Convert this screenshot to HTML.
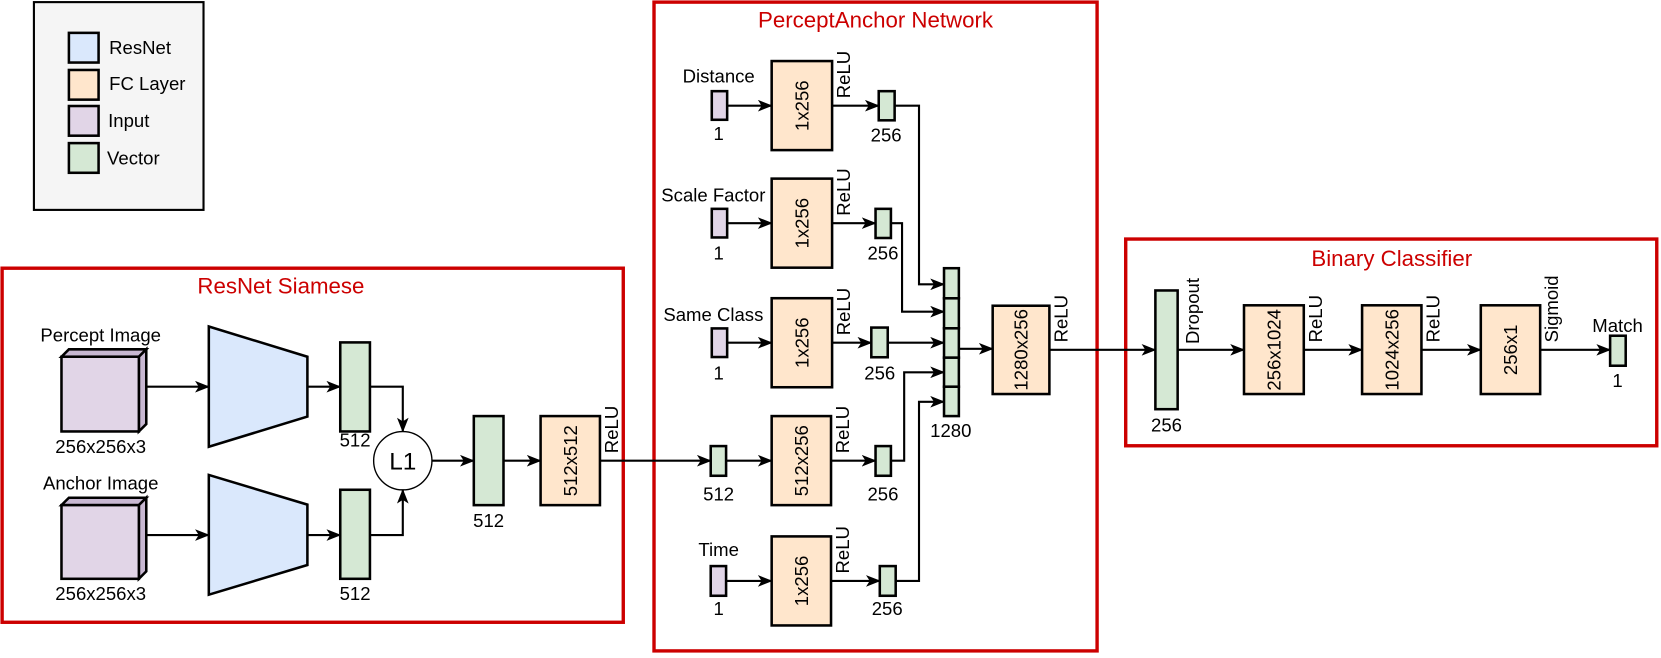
<!DOCTYPE html>
<html><head><meta charset="utf-8"><style>
html,body{margin:0;padding:0;background:#fff;}
svg{display:block;font-family:"Liberation Sans",Arial,sans-serif;}
text{font-family:"Liberation Sans",Arial,sans-serif;fill:#000;}
.t{font-size:17.5px;}
.ti{font-size:21px;fill:#cc0000;}
.ln{stroke:#000;stroke-width:2;fill:none;}
.b{stroke:#000;stroke-width:2.4;}
.red{stroke:#cc0000;stroke-width:3.2;fill:none;}
</style></head><body>
<svg width="1661" height="658" viewBox="0 0 1567 620.7" preserveAspectRatio="none" xmlns="http://www.w3.org/2000/svg" font-family="Liberation Sans, Arial, sans-serif">
<defs>
<marker id="a" markerWidth="14" markerHeight="11" refX="13" refY="5.5" orient="auto" markerUnits="userSpaceOnUse">
<path d="M0,0 L14,5.5 L0,11 L3.5,5.5 z" fill="#000"/>
</marker>
</defs>

<!-- Legend -->
<rect x="32" y="2" width="160" height="196" fill="#f5f5f5" stroke="#000" stroke-width="2"/>
<rect x="65" y="31" width="28" height="28" fill="#dae8fc" class="b"/>
<rect x="65" y="66" width="28" height="28" fill="#ffe6cc" class="b"/>
<rect x="65" y="100" width="28" height="28" fill="#e1d5e7" class="b"/>
<rect x="65" y="135" width="28" height="28" fill="#d5e8d4" class="b"/>
<text class="t" x="103" y="51">ResNet</text>
<text class="t" x="103" y="85">FC Layer</text>
<text class="t" x="102" y="120">Input</text>
<text class="t" x="101" y="155">Vector</text>

<!-- Boxes -->
<rect x="2" y="253" width="586" height="334" class="red"/>
<text class="ti" x="265" y="277" text-anchor="middle">ResNet Siamese</text>
<rect x="617" y="2" width="418" height="612" class="red"/>
<text class="ti" x="826" y="26" text-anchor="middle">PerceptAnchor Network</text>
<rect x="1062" y="225.5" width="501" height="195" class="red"/>
<text class="ti" x="1313" y="251" text-anchor="middle">Binary Classifier</text>

<!-- ResNet Siamese -->
<text class="t" x="95" y="322" text-anchor="middle">Percept Image</text>
<polygon points="58,336.5 65,329.5 138,329.5 131,336.5" fill="#c8b8d2" class="b"/>
<polygon points="131,336.5 138,329.5 138,400 131,407" fill="#c8b8d2" class="b"/>
<rect x="58" y="336.5" width="73" height="70.5" fill="#e1d5e7" class="b"/>
<text class="t" x="95" y="427.5" text-anchor="middle">256x256x3</text>

<text class="t" x="95" y="461.6" text-anchor="middle">Anchor Image</text>
<polygon points="58,476.5 65,469.5 138,469.5 131,476.5" fill="#c8b8d2" class="b"/>
<polygon points="131,476.5 138,469.5 138,539 131,546" fill="#c8b8d2" class="b"/>
<rect x="58" y="476.5" width="73" height="69.5" fill="#e1d5e7" class="b"/>
<text class="t" x="95" y="566" text-anchor="middle">256x256x3</text>

<line x1="138" y1="364.8" x2="197" y2="364.8" class="ln" marker-end="url(#a)"/>
<line x1="138" y1="504.7" x2="197" y2="504.7" class="ln" marker-end="url(#a)"/>
<polygon points="197,308 290,336.5 290,393 197,421.4" fill="#dae8fc" class="b"/>
<polygon points="197,448 290,476 290,533 197,561" fill="#dae8fc" class="b"/>
<line x1="290" y1="364.8" x2="321" y2="364.8" class="ln" marker-end="url(#a)"/>
<line x1="290" y1="504.7" x2="321" y2="504.7" class="ln" marker-end="url(#a)"/>
<rect x="321" y="323" width="28" height="84" fill="#d5e8d4" class="b"/>
<rect x="321" y="462" width="28" height="84" fill="#d5e8d4" class="b"/>
<text class="t" x="335" y="421" text-anchor="middle">512</text>
<text class="t" x="335" y="566" text-anchor="middle">512</text>
<polyline points="349,364.8 380,364.8 380,407" class="ln" marker-end="url(#a)"/>
<polyline points="349,504.7 380,504.7 380,462" class="ln" marker-end="url(#a)"/>
<circle cx="380" cy="434.6" r="27.5" fill="#fff" stroke="#000" stroke-width="1.3"/>
<text x="380" y="443" text-anchor="middle" style="font-size:23px">L1</text>
<line x1="407.5" y1="434.6" x2="447" y2="434.6" class="ln" marker-end="url(#a)"/>
<rect x="447" y="392.5" width="28" height="84" fill="#d5e8d4" class="b"/>
<text class="t" x="461" y="497" text-anchor="middle">512</text>
<line x1="475" y1="434.6" x2="510" y2="434.6" class="ln" marker-end="url(#a)"/>
<rect x="510" y="392.5" width="56" height="84" fill="#ffe6cc" class="b"/>
<text class="t" transform="translate(538,434.6) rotate(-90)" text-anchor="middle" dominant-baseline="central">512x512</text>
<text class="t" transform="translate(583,427.5) rotate(-90)">ReLU</text>
<line x1="566" y1="434.6" x2="670.5" y2="434.6" class="ln" marker-end="url(#a)"/>

<!-- Distance -->
<text class="t" x="678" y="78" text-anchor="middle">Distance</text>
<rect x="671.5" y="86" width="14.5" height="27" fill="#e1d5e7" class="b"/>
<text class="t" x="678" y="132" text-anchor="middle">1</text>
<line x1="686" y1="99.7" x2="728" y2="99.7" class="ln" marker-end="url(#a)"/>
<rect x="728" y="57.6" width="57" height="84" fill="#ffe6cc" class="b"/>
<text class="t" transform="translate(756.5,99.7) rotate(-90)" text-anchor="middle" dominant-baseline="central">1x256</text>
<text class="t" transform="translate(802,92.7) rotate(-90)">ReLU</text>
<line x1="785" y1="99.7" x2="829" y2="99.7" class="ln" marker-end="url(#a)"/>
<rect x="829" y="86" width="15" height="27.5" fill="#d5e8d4" class="b"/>
<text class="t" x="836" y="133.7" text-anchor="middle">256</text>

<!-- Scale Factor -->
<text class="t" x="673" y="190" text-anchor="middle">Scale Factor</text>
<rect x="671.5" y="197" width="14.5" height="27" fill="#e1d5e7" class="b"/>
<text class="t" x="678" y="245" text-anchor="middle">1</text>
<line x1="686" y1="210.5" x2="728" y2="210.5" class="ln" marker-end="url(#a)"/>
<rect x="728" y="168.5" width="57" height="84" fill="#ffe6cc" class="b"/>
<text class="t" transform="translate(756.5,210.5) rotate(-90)" text-anchor="middle" dominant-baseline="central">1x256</text>
<text class="t" transform="translate(802,203.5) rotate(-90)">ReLU</text>
<line x1="785" y1="210.5" x2="826" y2="210.5" class="ln" marker-end="url(#a)"/>
<rect x="826" y="197" width="14.5" height="27.5" fill="#d5e8d4" class="b"/>
<text class="t" x="833" y="245" text-anchor="middle">256</text>

<!-- Same Class -->
<text class="t" x="673" y="303" text-anchor="middle">Same Class</text>
<rect x="671.5" y="309.8" width="14.5" height="27" fill="#e1d5e7" class="b"/>
<text class="t" x="678" y="358" text-anchor="middle">1</text>
<line x1="686" y1="323.3" x2="728" y2="323.3" class="ln" marker-end="url(#a)"/>
<rect x="728" y="281.3" width="57" height="84" fill="#ffe6cc" class="b"/>
<text class="t" transform="translate(756.5,323.3) rotate(-90)" text-anchor="middle" dominant-baseline="central">1x256</text>
<text class="t" transform="translate(802,316.3) rotate(-90)">ReLU</text>
<line x1="785" y1="323.3" x2="822" y2="323.3" class="ln" marker-end="url(#a)"/>
<rect x="822" y="309" width="15.5" height="28" fill="#d5e8d4" class="b"/>
<text class="t" x="830" y="358" text-anchor="middle">256</text>

<!-- 512 row -->
<rect x="670.5" y="420.8" width="14.5" height="28" fill="#d5e8d4" class="b"/>
<text class="t" x="678" y="472" text-anchor="middle">512</text>
<line x1="685" y1="434.6" x2="728" y2="434.6" class="ln" marker-end="url(#a)"/>
<rect x="728" y="392.5" width="56" height="84" fill="#ffe6cc" class="b"/>
<text class="t" transform="translate(756,434.6) rotate(-90)" text-anchor="middle" dominant-baseline="central">512x256</text>
<text class="t" transform="translate(801,427.6) rotate(-90)">ReLU</text>
<line x1="784" y1="434.6" x2="826" y2="434.6" class="ln" marker-end="url(#a)"/>
<rect x="826" y="420.8" width="14.5" height="28" fill="#d5e8d4" class="b"/>
<text class="t" x="833" y="472" text-anchor="middle">256</text>

<!-- Time -->
<text class="t" x="678" y="524.5" text-anchor="middle">Time</text>
<rect x="670.5" y="534" width="14.5" height="28" fill="#e1d5e7" class="b"/>
<text class="t" x="678" y="580" text-anchor="middle">1</text>
<line x1="685" y1="548" x2="728" y2="548" class="ln" marker-end="url(#a)"/>
<rect x="728" y="506" width="56" height="84" fill="#ffe6cc" class="b"/>
<text class="t" transform="translate(756,548) rotate(-90)" text-anchor="middle" dominant-baseline="central">1x256</text>
<text class="t" transform="translate(801,541) rotate(-90)">ReLU</text>
<line x1="784" y1="548" x2="830" y2="548" class="ln" marker-end="url(#a)"/>
<rect x="830" y="534" width="15" height="28" fill="#d5e8d4" class="b"/>
<text class="t" x="837" y="580" text-anchor="middle">256</text>

<!-- concat connectors -->
<polyline points="844,99.7 867,99.7 867,268.2 890.6,268.2" class="ln" marker-end="url(#a)"/>
<polyline points="840.5,210.5 851,210.5 851,294 890.6,294" class="ln" marker-end="url(#a)"/>
<line x1="837.5" y1="323.3" x2="890.6" y2="323.3" class="ln" marker-end="url(#a)"/>
<polyline points="840.5,434.6 853,434.6 853,351.2 890.6,351.2" class="ln" marker-end="url(#a)"/>
<polyline points="845,548 867,548 867,379 890.6,379" class="ln" marker-end="url(#a)"/>

<!-- concat stack -->
<rect x="890.6" y="253" width="14" height="28.4" fill="#d5e8d4" class="b"/>
<rect x="890.6" y="281.4" width="14" height="28.3" fill="#d5e8d4" class="b"/>
<rect x="890.6" y="309.7" width="14" height="27.7" fill="#d5e8d4" class="b"/>
<rect x="890.6" y="337.4" width="14" height="27.4" fill="#d5e8d4" class="b"/>
<rect x="890.6" y="364.8" width="14" height="27.7" fill="#d5e8d4" class="b"/>
<text class="t" x="897" y="412" text-anchor="middle">1280</text>
<line x1="904.6" y1="329" x2="936.5" y2="329" class="ln" marker-end="url(#a)"/>
<rect x="936.5" y="288.4" width="53.5" height="83.3" fill="#ffe6cc" class="b"/>
<text class="t" transform="translate(963.3,330) rotate(-90)" text-anchor="middle" dominant-baseline="central">1280x256</text>
<text class="t" transform="translate(1007,323) rotate(-90)">ReLU</text>
<line x1="990" y1="330" x2="1090" y2="330" class="ln" marker-end="url(#a)"/>

<!-- Binary classifier -->
<rect x="1090" y="274" width="21" height="112" fill="#d5e8d4" class="b"/>
<text class="t" x="1100.5" y="407" text-anchor="middle">256</text>
<text class="t" transform="translate(1131,324.5) rotate(-90)">Dropout</text>
<line x1="1111" y1="330" x2="1173.6" y2="330" class="ln" marker-end="url(#a)"/>
<rect x="1173.6" y="288" width="56.4" height="83.7" fill="#ffe6cc" class="b"/>
<text class="t" transform="translate(1201.8,330) rotate(-90)" text-anchor="middle" dominant-baseline="central">256x1024</text>
<text class="t" transform="translate(1247,323) rotate(-90)">ReLU</text>
<line x1="1230" y1="330" x2="1285" y2="330" class="ln" marker-end="url(#a)"/>
<rect x="1285" y="288" width="56" height="83.7" fill="#ffe6cc" class="b"/>
<text class="t" transform="translate(1313,330) rotate(-90)" text-anchor="middle" dominant-baseline="central">1024x256</text>
<text class="t" transform="translate(1358,323) rotate(-90)">ReLU</text>
<line x1="1341" y1="330" x2="1397" y2="330" class="ln" marker-end="url(#a)"/>
<rect x="1397" y="288" width="56" height="83.7" fill="#ffe6cc" class="b"/>
<text class="t" transform="translate(1425,330) rotate(-90)" text-anchor="middle" dominant-baseline="central">256x1</text>
<text class="t" transform="translate(1470,323) rotate(-90)">Sigmoid</text>
<line x1="1453" y1="330" x2="1519" y2="330" class="ln" marker-end="url(#a)"/>
<rect x="1519" y="316.7" width="14.7" height="28.3" fill="#d5e8d4" class="b"/>
<text class="t" x="1526" y="313" text-anchor="middle">Match</text>
<text class="t" x="1526" y="365" text-anchor="middle">1</text>
</svg>
</body></html>
